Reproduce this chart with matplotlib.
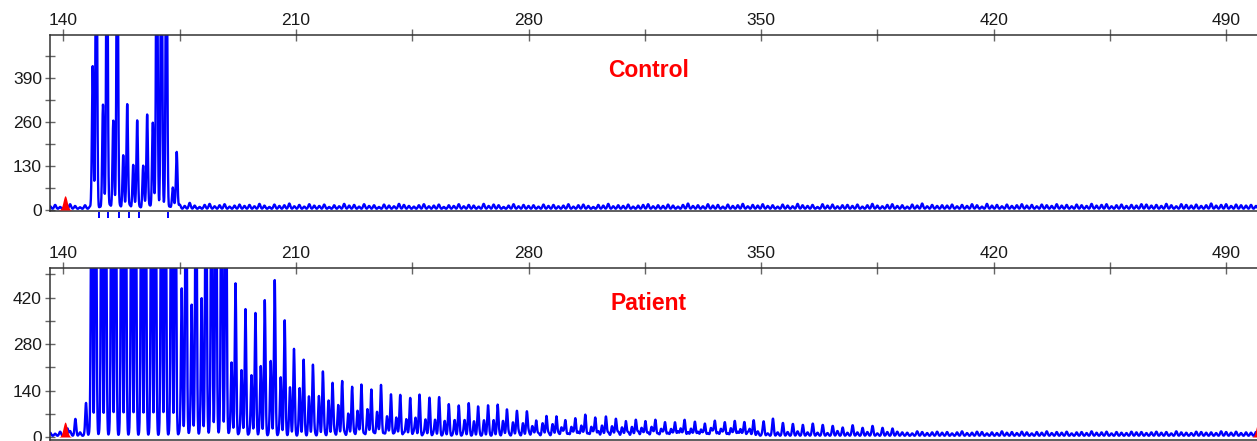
import numpy as np
import matplotlib.pyplot as plt

plt.rcParams['font.family'] = ['Liberation Sans', 'DejaVu Sans']

OFF = 1000  # off-scale peaks, they get clipped at the top of the panel

# control trace: peak size (bp) and height (rfu)
ctrl_pos = [148.8, 149.9, 151.9, 153.1, 155.0, 156.2, 158.0, 159.2, 161.0,
            162.2, 164.0, 165.2, 166.9, 168.1, 169.5, 171.0, 172.9, 174.1]
ctrl_h = [421, OFF, 307, OFF, 259, OFF, 157, 309, 128,
          261, 125, 278, 253, OFF, OFF, OFF, 62, 167]
ctrl_marks = [150.6, 153.5, 156.6, 159.6, 162.7, 171.5]

# patient trace
pat_pos = [141.2, 143.6, 146.8,
           148.5, 149.7, 151.5, 152.7, 154.5, 155.7, 157.5, 158.7, 160.5, 161.7,
           163.5, 164.7, 166.5, 167.7, 169.5, 170.7, 172.5, 173.7, 175.6, 176.9,
           178.6, 179.9, 181.6, 182.9, 184.6, 185.9, 187.6, 188.9, 190.6, 191.8,
           193.6, 194.8, 196.6, 197.8, 199.4, 200.6, 202.4, 203.6, 205.4, 206.6,
           208.2, 209.4, 211.1, 212.3, 213.9, 215.1, 216.9, 218.1, 219.8, 221.0,
           222.7, 223.9, 225.7, 226.9, 228.5, 229.7, 231.5, 232.7, 234.4, 235.6,
           237.4, 238.6, 240.2, 241.4, 243.2, 244.4, 246.0, 247.2, 249.0, 250.2,
           251.9, 253.1, 254.8, 256.0, 257.8, 259.0, 260.8, 262.0, 263.6, 264.8,
           266.6, 267.8, 269.5, 270.7, 272.3, 273.5, 275.3, 276.5, 278.3, 279.5,
           281.1, 282.3, 284.2, 285.4, 287.2, 288.4, 289.9, 291.1, 292.9, 294.1,
           295.9, 297.1, 298.9, 300.1, 302.1, 303.3, 305.1, 306.3, 308.1, 309.3,
           311.1, 312.3, 314.0, 315.2, 317.0, 318.2, 319.9, 321.1, 322.9, 324.1,
           325.8, 327.0, 328.9, 330.1, 331.9, 333.1, 334.9, 336.1, 337.9, 339.1,
           340.9, 342.1, 343.8, 345.0, 346.6, 347.8, 350.8, 353.6, 356.6, 359.6,
           362.6, 365.6, 368.6, 371.6, 374.6, 377.6, 380.6, 383.6, 386.6, 389.6]
pat_h = [22, 44, 96,
         OFF, OFF, OFF, OFF, OFF, OFF, OFF, OFF, OFF, OFF,
         OFF, OFF, OFF, OFF, OFF, OFF, OFF, OFF, 443, OFF,
         394, OFF, 414, OFF, OFF, OFF, OFF, OFF, 220, 455,
         197, 375, 182, 364, 207, 397, 222, 463, 172, 340,
         138, 255, 132, 222, 111, 210, 113, 190, 99, 157,
         88, 164, 61, 147, 73, 154, 78, 139, 71, 152,
         58, 124, 55, 119, 50, 111, 52, 116, 48, 106,
         45, 104, 40, 84, 42, 84, 40, 88, 36, 78,
         38, 83, 40, 88, 35, 78, 33, 73, 32, 71,
         25, 46, 30, 59, 28, 58, 24, 46, 26, 52,
         30, 63, 26, 54, 28, 58, 25, 51, 22, 44,
         24, 48, 22, 44, 24, 48, 20, 40, 20, 40,
         22, 46, 21, 42, 18, 36, 22, 44, 20, 40,
         22, 44, 20, 40, 20, 42, 38, 40, 30, 28,
         26, 25, 22, 20, 18, 20, 16, 17, 15, 14]

# red size-standard peaks
red_top_pos, red_top_h = [140.5], [42]
red_bot_pos, red_bot_h = [140.5, 499.6], [45, 42]

# baseline noise, one spike every 1.5 bp from 136
ctrl_noise = [8, 12, 6, 10, 14, 9, 5, 11, 7, 13, 6, 9, 12, 8, 10, 7, 11, 9, 6, 12,
              10, 14, 8, 16, 7, 11, 13, 9, 18, 10, 6, 12, 15, 8, 11, 14, 7, 10, 13, 9,
              12, 8, 15, 10, 6, 13, 9, 11, 16, 8, 12, 7, 14, 10, 9, 13, 6, 11, 8, 15,
              10, 12, 7, 14, 9, 11, 6, 13, 10, 8, 15, 12, 9, 7, 11, 14, 8, 10, 13, 6,
              11, 9, 14, 8, 12, 10, 7, 15, 9, 13, 11, 6, 10, 14, 8, 12, 9, 11, 7, 13,
              9, 12, 8, 10, 14, 7, 11, 13, 9, 6, 12, 10, 15, 8, 11, 9, 13, 7, 10, 12,
              14, 8, 11, 9, 13, 10, 7, 12, 16, 9, 11, 8, 14, 10, 12, 7, 13, 9, 11, 15,
              8, 12, 10, 14, 9, 11, 7, 13, 10, 8, 15, 11, 9, 12, 6, 14, 10, 13, 8, 11,
              12, 9, 13, 7, 11, 15, 10, 8, 12, 14, 9, 11, 7, 13, 10, 16, 8, 12, 9, 11,
              10, 13, 8, 12, 9, 14, 11, 7, 15, 10, 12, 8, 13, 9, 11, 14, 10, 12, 8, 13,
              11, 9, 14, 10, 12, 8, 13, 11, 9, 15, 10, 12, 14, 8, 11, 13, 9, 12, 10, 14,
              13, 10, 12, 9, 15, 11, 8, 14, 12, 10, 13, 9, 11, 16, 10, 12, 14, 9, 13, 11,
              10, 12, 9]
pat_noise = [10, 7, 13, 9, 15, 8, 11, 6, 12, 9, 14, 8, 10, 13, 7, 11, 9, 12, 8, 10,
             9, 11, 7, 13, 10, 8, 12, 9, 11, 14, 8, 10, 12, 7, 13, 9, 11, 8, 10, 12,
             8, 11, 9, 13, 10, 7, 12, 9, 11, 8, 13, 10, 9, 12, 8, 11, 10, 13, 9, 12,
             11, 9, 13, 8, 12, 10, 14, 9, 11, 8, 12, 10, 9, 13, 11, 8, 12, 10, 14, 9,
             12, 10, 8, 13, 11, 9, 14, 10, 12, 8, 11, 13, 9, 10, 12, 8, 14, 11, 9, 13,
             10, 12, 9, 14, 8, 11, 13, 10, 9, 12, 15, 8, 11, 10, 13, 9, 12, 8, 14, 10,
             11, 13, 8, 12, 10, 9, 14, 11, 12, 8, 13, 10, 9, 15, 11, 12, 8, 10, 13, 9,
             12, 9, 14, 10, 8, 13, 11, 10, 12, 9, 14, 8, 11, 13, 10, 12, 9, 11, 15, 8,
             10, 13, 11, 9, 12, 14, 8, 10, 12, 9, 13, 11, 10, 8, 14, 12, 9, 11, 13, 10,
             12, 8, 11, 14, 9, 10, 13, 12, 8, 11, 9, 14, 10, 12, 9, 13, 11, 8, 12, 10,
             14, 9, 12, 10, 13, 8, 11, 12, 9, 14, 10, 11, 13, 8, 12, 10, 9, 13, 11, 12,
             9, 11, 13, 10, 12, 8, 14, 11, 10, 9, 13, 12, 10, 11, 9, 14, 12, 10, 13, 9,
             11, 10, 12]

x = np.arange(135.0, 500.5, 0.05)


def trace(pos, h, noise=None, width=0.23, base=3.0):
    y = np.full_like(x, base)
    for p, a in zip(pos, h):
        y += a * np.exp(-0.5 * ((x - p) / width) ** 2)
    if noise is not None:
        npos = 136 + 1.5 * np.arange(len(noise))
        for p, a in zip(npos, noise):
            y += a * np.exp(-0.5 * ((x - p) / 0.3) ** 2)
    return y


fig = plt.figure(figsize=(12.57, 4.41), dpi=100)
ax1 = fig.add_axes([49.5 / 1257, 1 - 211 / 441, 1 - 49.5 / 1257, 176 / 441])
ax2 = fig.add_axes([49.5 / 1257, 1 - 440 / 441, 1 - 49.5 / 1257, 172 / 441])

panels = [
    (ax1, ctrl_pos, ctrl_h, ctrl_noise, red_top_pos, red_top_h, (-3, 517),
     [0, 130, 260, 390], [65, 195, 325, 455], 'Control', 412),
    (ax2, pat_pos, pat_h, pat_noise, red_bot_pos, red_bot_h, (-9, 509),
     [0, 140, 280, 420], [70, 210, 350, 490], 'Patient', 403),
]

for ax, pos, h, noise, rpos, rh, ylim, yt, ymt, name, ty in panels:
    ax.fill_between(x, trace(rpos, rh, width=0.6, base=0), color='red', lw=0, zorder=3)
    ax.plot(x, trace(pos, h, noise), color='blue', lw=1.7, zorder=2)
    ax.set_xlim(135.8, 499.3)
    ax.set_ylim(*ylim)
    ax.text(316, ty, name, color='red', fontsize=16.5, fontweight='bold',
            ha='center', va='center')

    xt = np.arange(140, 500, 35)
    ax.xaxis.tick_top()
    ax.set_xticks(xt)
    ax.set_xticklabels([str(v) if (v - 140) % 70 == 0 else '' for v in xt])
    ax.tick_params(axis='x', direction='inout', length=8.5, width=1, color='#666',
                   labelsize=12.5, labelcolor='#1a1a1a', pad=1)
    ax.set_yticks(yt)
    ax.set_yticks(ymt, minor=True)
    ax.tick_params(axis='y', which='both', direction='inout', length=7, width=1,
                   color='#666', labelsize=12.5, labelcolor='#1a1a1a', pad=2)
    for s in ['top', 'left', 'bottom']:
        ax.spines[s].set_color('#333')
        ax.spines[s].set_linewidth(1.1)
    ax.spines['right'].set_visible(False)

ax1.vlines(ctrl_marks, -5, -25, color='blue', lw=1.4, clip_on=False)

fig.savefig('out.png', dpi=100)
